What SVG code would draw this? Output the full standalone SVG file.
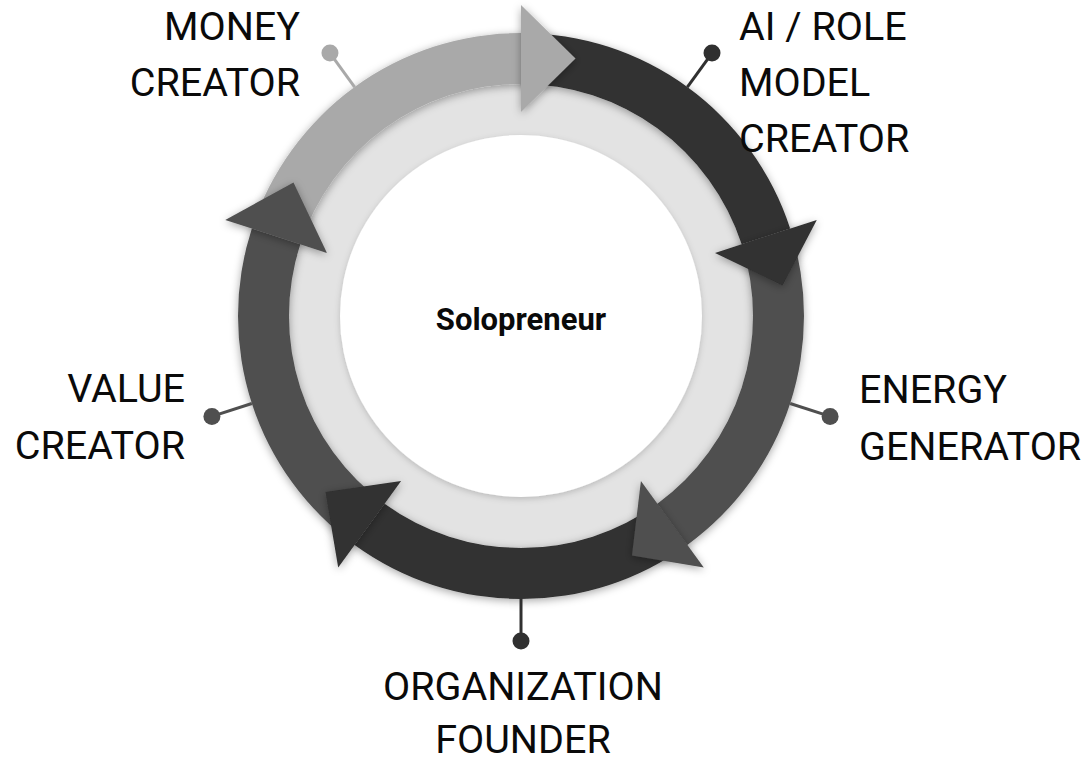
<svg xmlns="http://www.w3.org/2000/svg" width="1088" height="763" viewBox="0 0 1088 763">
  <defs>
    <filter id="sh" x="-20%" y="-20%" width="140%" height="140%">
      <feDropShadow dx="0" dy="2" stdDeviation="4" flood-color="#000" flood-opacity="0.35"/>
    </filter>
    <filter id="shw" x="-20%" y="-20%" width="140%" height="140%">
      <feDropShadow dx="0" dy="2" stdDeviation="3" flood-color="#000" flood-opacity="0.18"/>
    </filter>
  </defs>
  <style>
    .lbl { font-family: Roboto, "Liberation Sans", sans-serif; font-size: 39.5px; fill: #0a0a0a; }
    .ctr { font-family: Roboto, "Liberation Sans", sans-serif; font-size: 31px; font-weight: 700; fill: #0a0a0a; }
    .light { fill: #a9a9a9; }
    .dark { fill: #303030; }
    .mid { fill: #4f4f4f; }
    .pin { stroke-width: 3; fill: none; }
  </style>
  <rect width="1088" height="763" fill="#ffffff"/>

  <g id="hub">
    <circle cx="521" cy="316" r="232" fill="#e3e3e3"/>
    <circle cx="521" cy="316" r="181" fill="#ffffff" filter="url(#shw)"/>
    <text class="ctr" x="521" y="330" text-anchor="middle">Solopreneur</text>
  </g>

  <g id="bands" filter="url(#sh)">
    <path id="band-money" class="light" d="M251.85,228.55 A283,283 0 0 1 521,33 L521,84 A232,232 0 0 0 300.35,244.31 Z"/>
    <path id="band-ai" class="dark" d="M521,33 A283,283 0 0 1 790.15,228.55 L741.65,244.31 A232,232 0 0 0 521,84 Z"/>
    <path id="band-energy" class="mid" d="M790.15,228.55 A283,283 0 0 1 687.34,544.95 L657.37,503.69 A232,232 0 0 0 741.65,244.31 Z"/>
    <path id="band-org" class="dark" d="M687.34,544.95 A283,283 0 0 1 354.66,544.95 L384.63,503.69 A232,232 0 0 0 657.37,503.69 Z"/>
    <path id="band-value" class="mid" d="M354.66,544.95 A283,283 0 0 1 251.85,228.55 L300.35,244.31 A232,232 0 0 0 384.63,503.69 Z"/>
  </g>

  <g id="connectors">
    <g id="arrowheads" filter="url(#sh)">
      <polygon class="light" points="521,5 575.5,58.5 521,112"/>
      <polygon class="dark" points="816.78,219.9 782.5,285.5 715.02,252.96"/>
      <polygon class="mid" points="703.8,567.6 632,555.5 640.91,481.04"/>
      <polygon class="dark" points="338.2,567.6 325.5,492 401.09,481.04"/>
      <polygon class="mid" points="225.22,219.9 293.5,182.5 326.98,252.96"/>
    </g>
    <g id="pins">
      <line class="pin" x1="354.66" y1="87.05" x2="329.97" y2="53.07" stroke="#a9a9a9"/>
      <circle cx="329.97" cy="53.07" r="8.5" fill="#a9a9a9"/>
      <line class="pin" x1="687.34" y1="87.05" x2="712.03" y2="53.07" stroke="#303030"/>
      <circle cx="712.03" cy="53.07" r="8.5" fill="#303030"/>
      <line class="pin" x1="790.15" y1="403.45" x2="830.09" y2="416.43" stroke="#4f4f4f"/>
      <circle cx="830.09" cy="416.43" r="8.5" fill="#4f4f4f"/>
      <line class="pin" x1="521" y1="599" x2="521" y2="641" stroke="#303030"/>
      <circle cx="521" cy="641" r="8.5" fill="#303030"/>
      <line class="pin" x1="251.85" y1="403.45" x2="211.91" y2="416.43" stroke="#4f4f4f"/>
      <circle cx="211.91" cy="416.43" r="8.5" fill="#4f4f4f"/>
    </g>
  </g>

  <g id="node-money">
    <text class="lbl" x="300" y="40" text-anchor="end">MONEY</text>
    <text class="lbl" x="300" y="96" text-anchor="end">CREATOR</text>
  </g>
  <g id="node-ai">
    <text class="lbl" x="739" y="40">AI / ROLE</text>
    <text class="lbl" x="739" y="96">MODEL</text>
    <text class="lbl" x="739" y="152">CREATOR</text>
  </g>
  <g id="node-energy">
    <text class="lbl" x="859" y="403">ENERGY</text>
    <text class="lbl" x="859" y="460">GENERATOR</text>
  </g>
  <g id="node-organization">
    <text class="lbl" x="523" y="700" text-anchor="middle">ORGANIZATION</text>
    <text class="lbl" x="523" y="753" text-anchor="middle">FOUNDER</text>
  </g>
  <g id="node-value">
    <text class="lbl" x="185" y="402" text-anchor="end">VALUE</text>
    <text class="lbl" x="185" y="459" text-anchor="end">CREATOR</text>
  </g>
</svg>
